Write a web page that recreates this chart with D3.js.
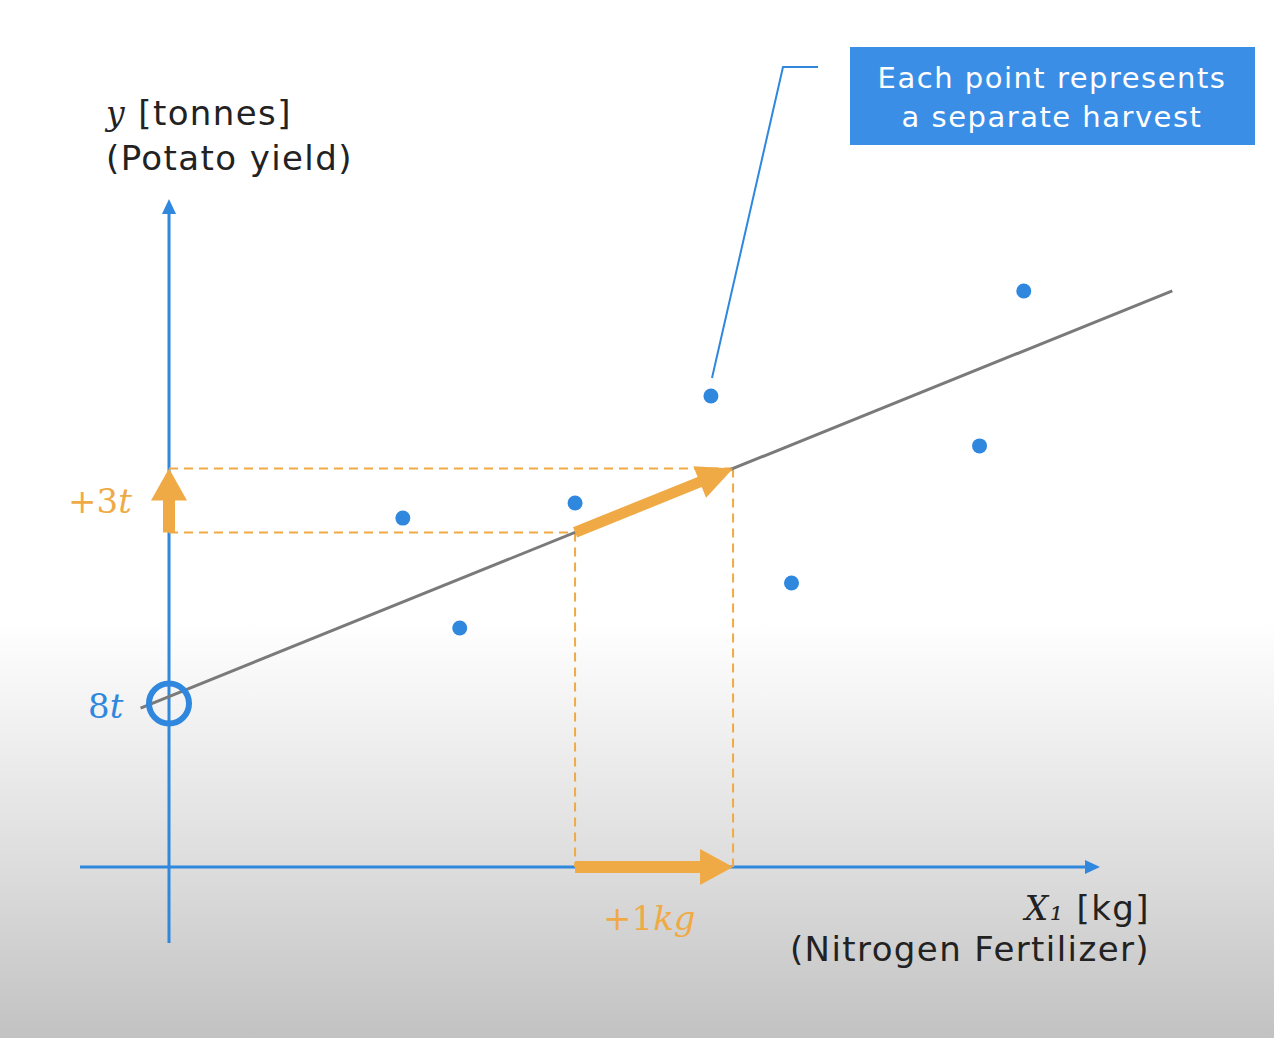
<!DOCTYPE html>
<html><head><meta charset="utf-8">
<script src="https://cdn.jsdelivr.net/npm/d3@7"></script>
<style>body{margin:0;background:#fff}svg{display:block}</style>
</head><body>
<script>
// ---- data ----
const harvestX = [1.48, 1.84, 2.57, 3.43, 3.94, 5.13, 5.41];      // kg nitrogen
const harvestY = [16.38, 11.22, 17.09, 22.11, 13.33, 19.77, 27.04]; // tonnes
const intercept = 8;      // t
const slope = 3;          // t per kg
const lineXRange = [-0.18, 6.35];
const stepX = [2.57, 3.57]; // +1kg step
const labels = {yTitle1:"[tonnes]", yTitle2:"(Potato yield)", xTitle1:"[kg]", xTitle2:"(Nitrogen Fertilizer)",
  dy:"+3", dx:"+1", b0:"8", note1:"Each point represents", note2:"a separate harvest"};

const W = 1274, H = 1038;
const blue = "#2f87de", orange = "#f0aa45", gray = "#7a7a7a";
const svg = d3.select("body").append("svg").attr("width", W).attr("height", H);
const defs = svg.append("defs");
const g = defs.append("linearGradient").attr("id","bg").attr("x1",0).attr("x2",0).attr("y1",0).attr("y2",1);
g.append("stop").attr("offset","0.6").attr("stop-color","#ffffff");
g.append("stop").attr("offset","0.84").attr("stop-color","#dcdcdc");
g.append("stop").attr("offset","1").attr("stop-color","#c2c2c2");
svg.append("rect").attr("width",W).attr("height",H).attr("fill","url(#bg)");

const x = d3.scaleLinear().domain([0, 6.5]).range([169, 169 + 6.5*158]);
const y = d3.scaleLinear().domain([0, 30]).range([867, 867 - 30*21.3]);

// axes
svg.append("line").attr("x1", x(0)).attr("x2", x(0)).attr("y1", 943).attr("y2", 212)
  .attr("stroke", blue).attr("stroke-width", 3);
svg.append("path").attr("d", `M${x(0)-7},${214} L${x(0)},${199} L${x(0)+7},${214} Z`).attr("fill", blue);
svg.append("line").attr("x1", 80).attr("x2", 1088).attr("y1", y(0)).attr("y2", y(0))
  .attr("stroke", blue).attr("stroke-width", 3);
svg.append("path").attr("d", `M${1085},${y(0)-7} L${1100},${y(0)} L${1085},${y(0)+7} Z`).attr("fill", blue);

// dashed guides
const x0 = stepX[0], x1 = stepX[1];
const ya = intercept + slope*x0, yb = intercept + slope*x1;
const dash = svg.append("g").attr("stroke", orange).attr("stroke-width", 2).attr("stroke-dasharray","9,6").attr("fill","none");
dash.append("line").attr("x1", x(0)).attr("x2", x(x1)).attr("y1", y(yb)).attr("y2", y(yb));
dash.append("line").attr("x1", x(0)).attr("x2", x(x0)).attr("y1", y(ya)).attr("y2", y(ya));
dash.append("line").attr("x1", x(x0)).attr("x2", x(x0)).attr("y1", y(ya)).attr("y2", y(0));
dash.append("line").attr("x1", x(x1)).attr("x2", x(x1)).attr("y1", y(yb)).attr("y2", y(0));

// regression line
svg.append("line")
  .attr("x1", x(lineXRange[0])).attr("y1", y(intercept + slope*lineXRange[0]))
  .attr("x2", x(lineXRange[1])).attr("y2", y(intercept + slope*lineXRange[1]))
  .attr("stroke", gray).attr("stroke-width", 3);

// arrow helper
function arrow(xa, ya_, xb, yb_, shaft, headW, headL){
  const dx = xb-xa, dy = yb_-ya_, L = Math.hypot(dx,dy);
  const ang = Math.atan2(dy,dx)*180/Math.PI;
  const s = shaft/2, h = headW/2, b = L-headL;
  svg.append("path")
    .attr("d", `M0,${-s} L${b},${-s} L${b},${-h} L${L},0 L${b},${h} L${b},${s} L0,${s} Z`)
    .attr("fill", orange)
    .attr("transform", `translate(${xa},${ya_}) rotate(${ang})`);
}
arrow(x(x0), y(ya), x(x1), y(yb), 11, 34, 36);
arrow(x(0), y(ya), x(0), y(yb), 12, 36, 32);
arrow(x(x0), y(0), x(x1), y(0), 12, 36, 33);

// intercept circle
svg.append("circle").attr("cx", x(0)).attr("cy", y(intercept)+7).attr("r", 20)
  .attr("fill","none").attr("stroke", blue).attr("stroke-width", 6);

// points
svg.append("g").selectAll("circle").data(harvestX).join("circle")
  .attr("cx", (d)=>x(d)).attr("cy", (d,i)=>y(harvestY[i])).attr("r", 7.5).attr("fill", blue);

// callout
svg.append("path").attr("d", `M818,67 L783,67 L712,378`).attr("fill","none").attr("stroke", blue).attr("stroke-width", 2);
svg.append("rect").attr("x", 850).attr("y", 47).attr("width", 405).attr("height", 98).attr("fill", "#3a8ee6");
const sans = "'DejaVu Sans', Verdana, sans-serif";
svg.append("text").attr("x", 1052).attr("y", 88).attr("text-anchor","middle").attr("fill","#fff")
  .attr("font-family", sans).attr("font-size", 29).attr("letter-spacing", 1.5).text(labels.note1);
svg.append("text").attr("x", 1052).attr("y", 127).attr("text-anchor","middle").attr("fill","#fff")
  .attr("font-family", sans).attr("font-size", 29).attr("letter-spacing", 1.5).text(labels.note2);

// axis titles
const serif = "'DejaVu Serif', 'Liberation Serif', serif";
const t1 = svg.append("text").attr("x", 106).attr("y", 125).attr("font-family", sans).attr("font-size", 34).attr("letter-spacing", 1.4).attr("fill","#222");
t1.append("tspan").attr("font-family", serif).attr("font-style","italic").attr("font-size",33).text("y");
t1.append("tspan").text(" " + labels.yTitle1);
svg.append("text").attr("x", 106).attr("y", 170).attr("font-family", sans).attr("font-size", 34).attr("letter-spacing", 1.4).attr("fill","#222").text(labels.yTitle2);

const t2 = svg.append("text").attr("x", 1150).attr("y", 920).attr("text-anchor","end").attr("font-family", sans).attr("font-size", 34).attr("letter-spacing", 1.4).attr("fill","#222");
t2.append("tspan").attr("font-family", serif).attr("font-style","italic").attr("font-size",33).text("X₁");
t2.append("tspan").text(" " + labels.xTitle1);
svg.append("text").attr("x", 1150).attr("y", 961).attr("text-anchor","end").attr("font-family", sans).attr("font-size", 34).attr("letter-spacing", 1.4).attr("fill","#222").text(labels.xTitle2);

// step labels
const lab3 = svg.append("text").attr("x", 68).attr("y", 513).attr("font-family", serif).attr("font-size", 34).attr("fill", orange);
lab3.append("tspan").text(labels.dy);
lab3.append("tspan").attr("font-style","italic").text("t");
const labkg = svg.append("text").attr("x", 603).attr("y", 930).attr("font-family", serif).attr("font-size", 34).attr("fill", orange);
labkg.append("tspan").text(labels.dx);
labkg.append("tspan").attr("font-style","italic").text("kg");
const lab8 = svg.append("text").attr("x", 88).attr("y", 718).attr("font-family", serif).attr("font-size", 34).attr("fill", blue);
lab8.append("tspan").text(labels.b0);
lab8.append("tspan").attr("font-style","italic").text("t");
</script>
</body></html>
